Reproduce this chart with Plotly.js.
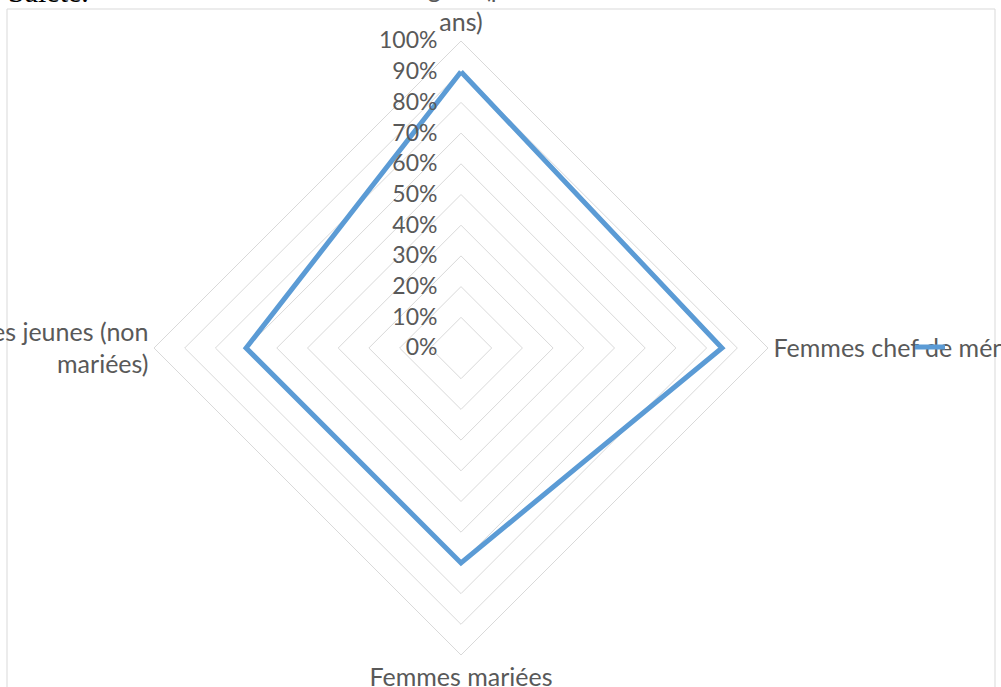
<!DOCTYPE html>
<html>
<head>
<meta charset="utf-8">
<script src="https://cdn.plot.ly/plotly-3.0.1.min.js"></script>
<style>
  html, body { margin: 0; padding: 0; background: #ffffff; overflow: hidden; }
  #chart { width: 1001px; height: 687px; }
</style>
</head>
<body>
<div id="chart"></div>
<script>
// Data
const categories = [
  "Femmes âgées (plus de 50<br>ans)",
  "Femmes chef de ménage",
  "Femmes mariées",
  "Filles jeunes (non<br>mariées)"
];
const values = [0.90, 0.85, 0.70, 0.70];
const seriesName = "Série1";
const docText = "Saleté.";

const theta = categories.concat([categories[0]]);
const r = values.concat([values[0]]);

const labelFont = { family: "Lato, 'Open Sans', sans-serif", size: 25, color: "#595959" };
const gridColor = "#d9d9d9";

const trace = {
  type: "scatterpolar",
  mode: "lines",
  r: r,
  theta: theta,
  name: seriesName,
  line: { color: "#5b9bd5", width: 5 },
  showlegend: true,
  hoverinfo: "skip"
};

const W = 1001, H = 687;
const cx = 461, cy = 348, R = 307;

const layout = {
  width: W,
  height: H,
  margin: { l: 0, r: 0, t: 0, b: 0, pad: 0 },
  paper_bgcolor: "#ffffff",
  plot_bgcolor: "#ffffff",
  showlegend: true,
  legend: {
    x: 910 / W, y: 1 - 347 / H,
    xanchor: "left", yanchor: "middle",
    bgcolor: "rgba(0,0,0,0)",
    font: { family: "Lato, sans-serif", size: 1, color: "rgba(0,0,0,0)" },
    itemwidth: 30
  },
  polar: {
    domain: {
      x: [(cx - R) / W, (cx + R) / W],
      y: [1 - (cy + R) / H, 1 - (cy - R) / H]
    },
    gridshape: "linear",
    bgcolor: "#ffffff",
    angularaxis: {
      rotation: 90,
      direction: "clockwise",
      type: "category",
      categoryarray: categories,
      showgrid: false,
      showline: true,
      linecolor: gridColor,
      linewidth: 1,
      ticks: "",
      tickfont: labelFont
    },
    radialaxis: {
      range: [0, 1],
      dtick: 0.1,
      tick0: 0,
      tickformat: ".0%",
      angle: 90,
      tickangle: 90,
      side: "counterclockwise",
      showline: false,
      ticks: "outside",
      ticklen: 15,
      tickcolor: "rgba(0,0,0,0)",
      gridcolor: gridColor,
      gridwidth: 1,
      tickfont: { family: labelFont.family, size: 23, color: "#595959" }
    }
  },
  shapes: [
    {
      type: "rect", xref: "paper", yref: "paper",
      x0: 7 / W, x1: 995 / W, y0: -0.02, y1: 1 - 9 / H,
      line: { color: gridColor, width: 1 },
      fillcolor: "rgba(0,0,0,0)",
      layer: "below"
    }
  ],
  annotations: [
    {
      text: docText,
      xref: "paper", yref: "paper",
      x: 0, y: 1,
      xanchor: "left", yanchor: "bottom",
      xshift: 6,
      yshift: -10,
      showarrow: false,
      font: { family: "'Liberation Serif', serif", size: 30, color: "#000000" }
    }
  ]
};

Plotly.newPlot("chart", [trace], layout, { displayModeBar: false, staticPlot: true });
</script>
</body>
</html>
